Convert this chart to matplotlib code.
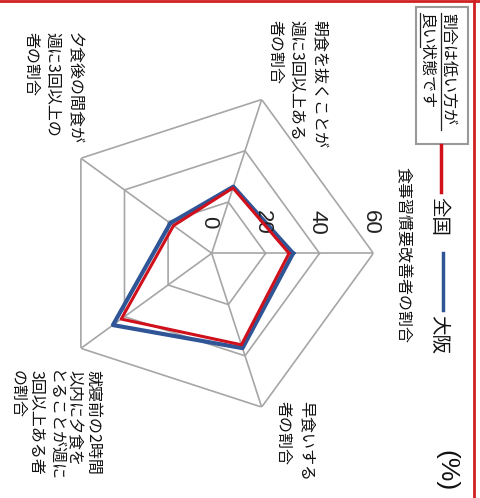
import numpy as np
import matplotlib
matplotlib.use('Agg')
import matplotlib.pyplot as plt
from matplotlib import transforms
from matplotlib.patches import Rectangle
from matplotlib.lines import Line2D

plt.rcParams['font.family'] = ['Noto Sans CJK JP', 'DejaVu Sans']

# ---- data ----
categories = ["食事習慣要改善者の割合",
              "早食いする\n者の割合",
              "就寝前の2時間\n以内に夕食を\nとることが週に\n3回以上ある者\nの割合",
              "夕食後の間食が\n週に3回以上の\n者の割合",
              "朝食を抜くことが\n週に3回以上ある\n者の割合"]
zenkoku = [28.7, 35.7, 41.5, 17.5, 25.5]
osaka = [30.2, 37.0, 45.3, 19.0, 26.0]
series_names = ["全国", "大阪"]
ticks = [0, 20, 40, 60]
note_lines = ["割合は低い方が", "良い状態です"]
unit_label = "(%)"

W, H = 481, 498
fig = plt.figure(figsize=(W / 100, H / 100), dpi=100)

def P(x, y):
    return (x / W, 1 - y / H)

# polar axes: centre at (211.7, 253.3) px, outer radius 161.7 px
cx, cy, R = 211.7, 253.3, 161.7
ax = fig.add_axes([(cx - R) / W, (H - cy - R) / H, 2 * R / W, 2 * R / H], projection='polar')
ax.set_theta_zero_location('E')
ax.set_theta_direction(-1)
ax.set_ylim(0, ticks[-1])
ax.grid(False)
ax.set_xticks([])
ax.set_yticks([])
ax.spines['polar'].set_visible(False)
ax.patch.set_alpha(0)

n = len(categories)
theta = np.arange(n) * 2 * np.pi / n
tc = np.append(theta, theta[0])

grid_col = '#a6a6a6'
for v in ticks[1:]:
    ax.plot(tc, [v] * (n + 1), color=grid_col, lw=1.2, zorder=1)
for t in theta:
    ax.plot([t, t], [0, ticks[-1]], color=grid_col, lw=1.2, zorder=1)

blue = '#2f5597'
red = '#d0101b'
ax.plot(tc, np.append(osaka, osaka[0]), color=blue, lw=3.0, zorder=3)
ax.plot(tc, np.append(zenkoku, zenkoku[0]), color=red, lw=2.2, zorder=4)

# tick labels (rotated)
off = transforms.offset_copy(ax.transData, fig=fig, x=-3, y=31, units='dots')
for v in ticks:
    ax.text(0, v, str(v), transform=off, rotation=-90, ha='center', va='center',
            fontsize=16, family=['Liberation Sans', 'DejaVu Sans'], color='#222222')

# category labels
lab_pos = [  # (x centre, y top, linespacing)
    (403, 167, 1.2),
    (294.5, 401, 1.45),
    (55, 370, 1.15),
    (52.5, 32, 1.35),
    (296.5, 20, 1.35),
]
for txt, (x, y, ls) in zip(categories, lab_pos):
    fig.text(*P(x, y), txt, rotation=-90, ha='center', va='top', fontsize=11.5,
             linespacing=ls, multialignment='left', color='#111111')

# legend
fig.add_artist(Line2D([441 / W, 441 / W], [1 - 145 / H, 1 - 192 / H], color=red, lw=2.5))
fig.text(*P(439, 197), series_names[0], rotation=-90, ha='center', va='top', fontsize=14, color='#111111')
fig.add_artist(Line2D([443 / W, 443 / W], [1 - 253 / H, 1 - 310 / H], color=blue, lw=2.5))
fig.text(*P(439, 315), series_names[1], rotation=-90, ha='center', va='top', fontsize=14, color='#111111')
fig.text(*P(446.5, 450), unit_label, rotation=-90, ha='center', va='top', fontsize=19,
         family=['Liberation Sans', 'DejaVu Sans'], color='#111111')

# note box
fig.add_artist(Rectangle(P(416, 144), 52 / W, 137 / H, fill=False, ec='#999999', lw=1.5))
fig.text(*P(448, 13), note_lines[0], rotation=-90, ha='center', va='top', fontsize=11.5, color='#111111')
fig.text(*P(427, 13), note_lines[1], rotation=-90, ha='center', va='top', fontsize=11.5, color='#111111')
fig.add_artist(Line2D([441.5 / W] * 2, [1 - 13 / H, 1 - 130 / H], color='#222222', lw=0.9))
fig.add_artist(Line2D([420.5 / W] * 2, [1 - 13 / H, 1 - 47 / H], color='#222222', lw=0.9))

# red frame
fig.add_artist(Line2D([0, 1], [1 - 1.5 / H] * 2, color='#d02020', lw=2))
fig.add_artist(Line2D([474 / W] * 2, [0, 1], color='#d02020', lw=2))

fig.savefig('out.png', dpi=100)
